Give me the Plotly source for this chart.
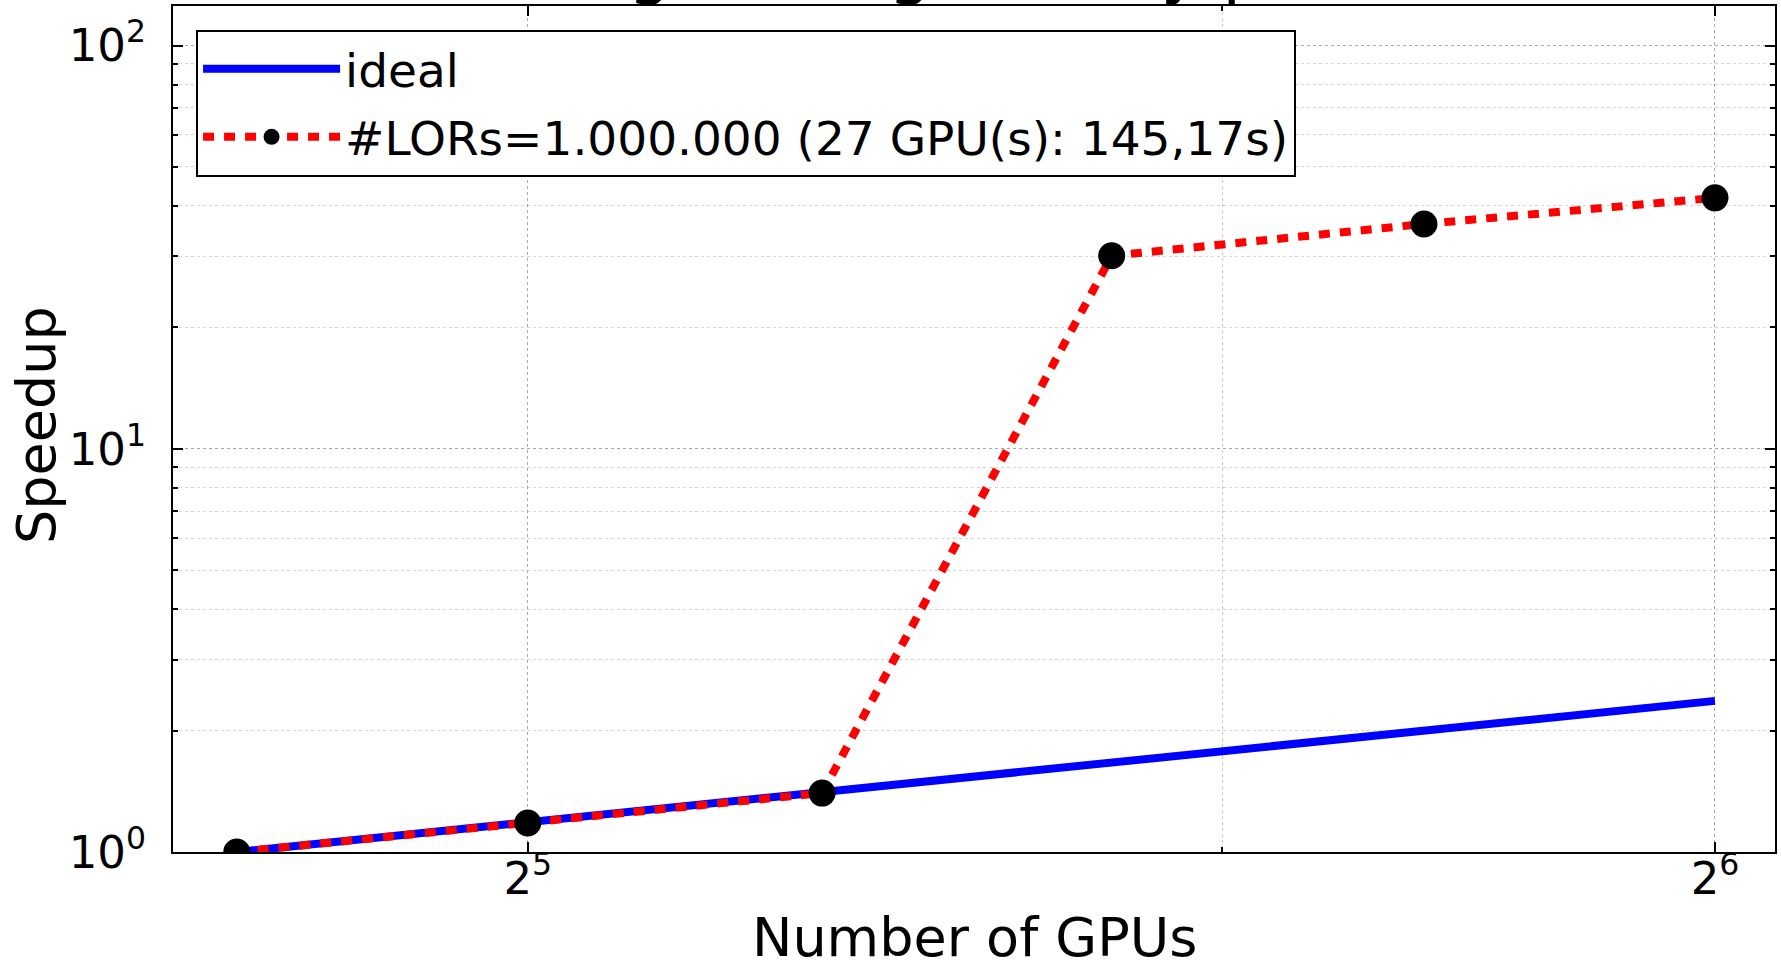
import plotly.graph_objects as go

# ---- data ----
gpus = [27, 32, 38, 45, 54, 64]
ideal_speedup = [1.0, 1.185, 1.407, 1.667, 2.0, 2.37]
measured_speedup = [1.0, 1.18, 1.40, 30.1, 36.1, 41.9]

x_tickvals = [32, 64]
x_ticktext = ["2<sup>5</sup>", "2<sup>6</sup>"]
x_minor = [48]
y_tickvals = [1, 10, 100]
y_ticktext = ["10<sup>0</sup>", "10<sup>1</sup>", "10<sup>2</sup>"]
y_minor = [2, 3, 4, 5, 6, 7, 8, 9, 20, 30, 40, 50, 60, 70, 80, 90]

title_text = "Strong scaling (Nearly parallel)"
x_title = "Number of GPUs"
y_title = "Speedup"
ideal_name = "ideal"
measured_name = "#LORs=1.000.000 (27 GPU(s): 145,17s)"

FONT = "DejaVu Sans"

fig = go.Figure()
fig.add_trace(go.Scatter(
    x=gpus, y=ideal_speedup, mode="lines", name=ideal_name, legendgroup="a",
    line=dict(color="#0000ff", width=8),
))
fig.add_trace(go.Scatter(
    x=gpus, y=measured_speedup, mode="lines+markers", name=measured_name, legendgroup="b",
    line=dict(color="#ff0000", width=8, dash="11px,10px"),
    marker=dict(color="black", size=27, line=dict(width=0)),
))

axis_common = dict(
    type="log", automargin=False,
    showline=True, linecolor="black", linewidth=2,
    mirror="ticks", ticks="inside", ticklen=10, tickwidth=1.5, tickcolor="black",
    showgrid=True, gridcolor="#a8a8a8", griddash="dot", gridwidth=1.2,
    zeroline=False,
    tickfont=dict(family=FONT, size=45, color="black"),
)

fig.update_xaxes(
    **axis_common,
    range=[1.4152, 1.8214],
    tickmode="array", tickvals=x_tickvals, ticktext=x_ticktext,
    minor=dict(tickmode="array", tickvals=x_minor, ticks="inside", ticklen=5,
               tickcolor="black", showgrid=True, gridcolor="#c8c8c8", griddash="dot"),
    ticklabelstandoff=-14,
)
fig.update_yaxes(
    **axis_common,
    range=[0, 2.098],
    tickmode="array", tickvals=y_tickvals, ticktext=y_ticktext,
    minor=dict(tickmode="array", tickvals=y_minor, ticks="inside", ticklen=5,
               tickcolor="black", showgrid=True, gridcolor="#d4d4d4", griddash="dot"),
    ticklabelstandoff=16,
)

# chart title (mostly above the visible page, as in the reference)
fig.add_annotation(
    text=title_text, xref="paper", yref="paper", x=0.5, y=1.046,
    xanchor="center", yanchor="middle", showarrow=False,
    font=dict(family=FONT, size=68, color="black"),
)
# axis titles
fig.add_annotation(
    text=x_title, xref="paper", yref="paper", x=0.5, y=0, yshift=-85,
    xanchor="center", yanchor="middle", showarrow=False,
    font=dict(family=FONT, size=54, color="black"),
)
fig.add_annotation(
    text=y_title, xref="paper", yref="paper", x=0, y=0.5, xshift=-137, yshift=4,
    xanchor="center", yanchor="middle", showarrow=False, textangle=-90,
    font=dict(family=FONT, size=54, color="black"),
)

fig.update_layout(
    width=1781, height=960,
    margin=dict(l=173, r=6, t=6, b=108, pad=0, autoexpand=False),
    paper_bgcolor="white", plot_bgcolor="white",
    font=dict(family=FONT, color="black"),
    showlegend=True,
    legend=dict(
        x=0.0144, y=0.972, xanchor="left", yanchor="top",
        bgcolor="white", bordercolor="black", borderwidth=2,
        font=dict(family=FONT, size=47, color="black"),
        itemwidth=137, itemsizing="trace", tracegroupgap=4,
    ),
)

fig.write_html("out.html", config={"displayModeBar": False},
               post_script="document.body.style.margin='0';")
